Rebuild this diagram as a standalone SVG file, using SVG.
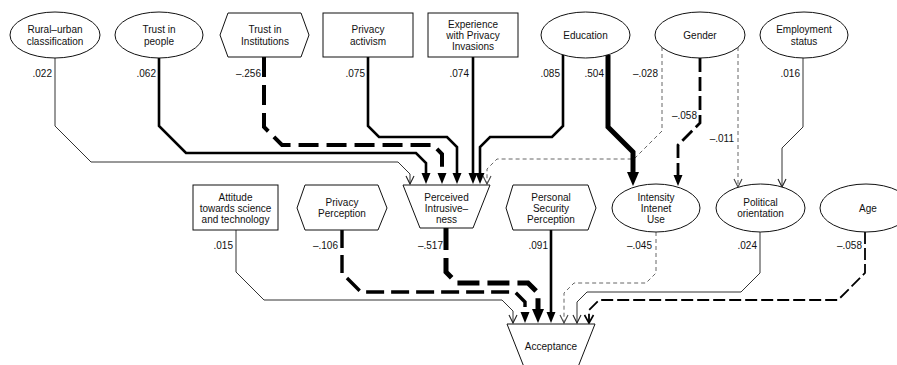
<svg xmlns="http://www.w3.org/2000/svg" width="897" height="365" viewBox="0 0 897 365">
<style>
text{font-family:"Liberation Sans",Arial,sans-serif;font-size:10px;fill:#111;text-anchor:middle}
.lbl{text-anchor:end}
.sh{fill:#fff;stroke:#111;stroke-width:1}
.c{fill:none;stroke-linejoin:miter}
.thin{stroke:#333;stroke-width:1}
.thinD{stroke:#666;stroke-width:1;stroke-dasharray:4 3}
.med{stroke:#000;stroke-width:2.6}
.big{stroke:#000;stroke-width:5}
.dA{stroke:#000;stroke-width:4;stroke-dasharray:20 8}
.dB{stroke:#000;stroke-width:3.4;stroke-dasharray:18 7}
.dC{stroke:#000;stroke-width:5;stroke-dasharray:22 8}
.dG{stroke:#000;stroke-width:2.8;stroke-dasharray:14 5}
.dAge{stroke:#000;stroke-width:1.8;stroke-dasharray:12 4}
</style>
<defs>
<marker id="aV" markerUnits="userSpaceOnUse" markerWidth="12" markerHeight="12" refX="8" refY="4" orient="auto" overflow="visible"><path d="M0,0 L8,4 L0,8" fill="none" stroke="#222" stroke-width="1.1"/></marker>
<marker id="aVg" markerUnits="userSpaceOnUse" markerWidth="12" markerHeight="12" refX="8" refY="4" orient="auto" overflow="visible"><path d="M0,0 L8,4 L0,8" fill="none" stroke="#444" stroke-width="1.1"/></marker>
<marker id="aVb" markerUnits="userSpaceOnUse" markerWidth="12" markerHeight="12" refX="8" refY="4.5" orient="auto" overflow="visible"><path d="M0,0 L8,4.5 L0,9" fill="none" stroke="#000" stroke-width="1.6"/></marker>
<marker id="aM" markerUnits="userSpaceOnUse" markerWidth="14" markerHeight="14" refX="0" refY="4.5" orient="auto" overflow="visible"><path d="M0,0 L11,4.5 L0,9 z" fill="#000"/></marker>
<marker id="aB" markerUnits="userSpaceOnUse" markerWidth="16" markerHeight="16" refX="0" refY="6" orient="auto" overflow="visible"><path d="M0,0 L14,6 L0,12 z" fill="#000"/></marker>
</defs>

<g id="connectors">
<!-- into Perceived Intrusiveness -->
<path class="c thin" d="M55,58 V126 L91,162 H398 L410,174 V184" marker-end="url(#aV)"/>
<path class="c med" d="M159,58 V126 L186,153 H416 L426,163 V173" marker-end="url(#aM)"/>
<path class="c dA" d="M264,57 V127 L282,145 H433 L442,154 V173" marker-end="url(#aM)"/>
<path class="c med" d="M368,57 V126 L379,137 H447 L457,147 V173" marker-end="url(#aM)"/>
<path class="c med" d="M473,57 V173" marker-end="url(#aM)"/>
<path class="c med" d="M563,55 V126 L552,137 H490 L480,147 V173" marker-end="url(#aM)"/>
<path class="c thinD" d="M662,47 V131 L634,159 H497 L487,169 V184" marker-end="url(#aVg)"/>
<!-- into Intensity / Political -->
<path class="c big" d="M608,55 V127 L633,152 V172" marker-end="url(#aB)"/>
<path class="c dG" d="M700,58 V123 L678,145 V175" marker-end="url(#aM)"/>
<path class="c thinD" d="M738,47 V187" marker-end="url(#aVg)"/>
<path class="c thin" d="M803,58 V127 L782,148 V187" marker-end="url(#aV)"/>
<!-- into Acceptance -->
<path class="c thin" d="M236,230 V272 L264,300 H502 L513,311 V323" marker-end="url(#aV)"/>
<path class="c dB" d="M342,230 V273 L361,292 H515 L525,302 V312" marker-end="url(#aM)"/>
<path class="c dC" d="M446,228 V272 L457,283 H528 L538,293 V309" marker-end="url(#aB)"/>
<path class="c med" d="M551,230 V312" marker-end="url(#aM)"/>
<path class="c thinD" d="M656,232 V273 L646,283 H574 L564,293 V323" marker-end="url(#aVg)"/>
<path class="c thin" d="M760,232 V273 L741,292 H587 L577,302 V323" marker-end="url(#aV)"/>
<path class="c dAge" d="M865,232 V273 L838,300 H599 L589,310 V323" marker-end="url(#aVb)"/>
</g>

<g id="labels">
<text class="lbl" x="52" y="77">.022</text>
<text class="lbl" x="156" y="77">.062</text>
<text class="lbl" x="261" y="77">–.256</text>
<text class="lbl" x="365" y="77">.075</text>
<text class="lbl" x="469" y="77">.074</text>
<text class="lbl" x="560" y="77">.085</text>
<text class="lbl" x="604" y="77">.504</text>
<text class="lbl" x="658" y="77">–.028</text>
<text class="lbl" x="697" y="119">–.058</text>
<text class="lbl" x="734" y="142">–.011</text>
<text class="lbl" x="800" y="77">.016</text>
<text class="lbl" x="233" y="249">.015</text>
<text class="lbl" x="338" y="249">–.106</text>
<text class="lbl" x="443" y="249">–.517</text>
<text class="lbl" x="548" y="249">.091</text>
<text class="lbl" x="652" y="249">–.045</text>
<text class="lbl" x="757" y="249">.024</text>
<text class="lbl" x="862" y="249">–.058</text>
</g>

<g id="rural-urban"><ellipse class="sh" cx="55" cy="35" rx="45" ry="23"/><text x="55" y="33">Rural–urban</text><text x="55" y="44.5">classification</text></g>
<g id="trust-people"><ellipse class="sh" cx="159" cy="35" rx="44" ry="23"/><text x="159" y="33">Trust in</text><text x="159" y="44.5">people</text></g>
<g id="trust-institutions"><polygon class="sh" points="220,35 228,13 301,13 309,35 301,57 228,57"/><text x="265" y="33">Trust in</text><text x="265" y="44.5">Institutions</text></g>
<g id="privacy-activism"><rect class="sh" x="323" y="13" width="90" height="44"/><text x="368" y="33">Privacy</text><text x="368" y="44.5">activism</text></g>
<g id="experience"><rect class="sh" x="428" y="13" width="90" height="44"/><text x="473" y="28">Experience</text><text x="473" y="39">with Privacy</text><text x="473" y="50">Invasions</text></g>
<g id="education"><ellipse class="sh" cx="585.5" cy="35" rx="44.5" ry="23"/><text x="585.5" y="38.5">Education</text></g>
<g id="gender"><ellipse class="sh" cx="700" cy="35" rx="45" ry="23"/><text x="700" y="38.5">Gender</text></g>
<g id="employment"><ellipse class="sh" cx="804" cy="35" rx="44" ry="23"/><text x="804" y="33">Employment</text><text x="804" y="44.5">status</text></g>

<g id="attitude"><rect class="sh" x="193" y="185" width="85" height="45"/><text x="235.5" y="200.5">Attitude</text><text x="235.5" y="211.5">towards science</text><text x="235.5" y="222.5">and technology</text></g>
<g id="privacy-perception"><polygon class="sh" points="297,208 305,185 378,185 387,208 378,230 305,230"/><text x="342" y="205.5">Privacy</text><text x="342" y="217">Perception</text></g>
<g id="perceived-intrusiveness"><polygon class="sh" points="403,185 490,185 473,228 420,228"/><text x="446.5" y="200.5">Perceived</text><text x="446.5" y="211.5">Intrusive–</text><text x="446.5" y="223">ness</text></g>
<g id="personal-security"><polygon class="sh" points="506,208 513,185 588,185 596,208 588,230 513,230"/><text x="551" y="200.5">Personal</text><text x="551" y="211.5">Security</text><text x="551" y="222.5">Perception</text></g>
<g id="intensity"><ellipse class="sh" cx="656" cy="208" rx="44" ry="24"/><text x="656" y="200.5">Intensity</text><text x="656" y="211.5">Intenet</text><text x="656" y="222.5">Use</text></g>
<g id="political"><ellipse class="sh" cx="760.5" cy="208" rx="44.5" ry="24"/><text x="760.5" y="205.5">Political</text><text x="760.5" y="217">orientation</text></g>
<g id="age"><ellipse class="sh" cx="866" cy="208" rx="46" ry="24"/><text x="868" y="211.5">Age</text></g>
<g id="acceptance"><polygon class="sh" points="507,324 595,324 578,367 524,367"/><text x="551" y="350">Acceptance</text></g>
</svg>
